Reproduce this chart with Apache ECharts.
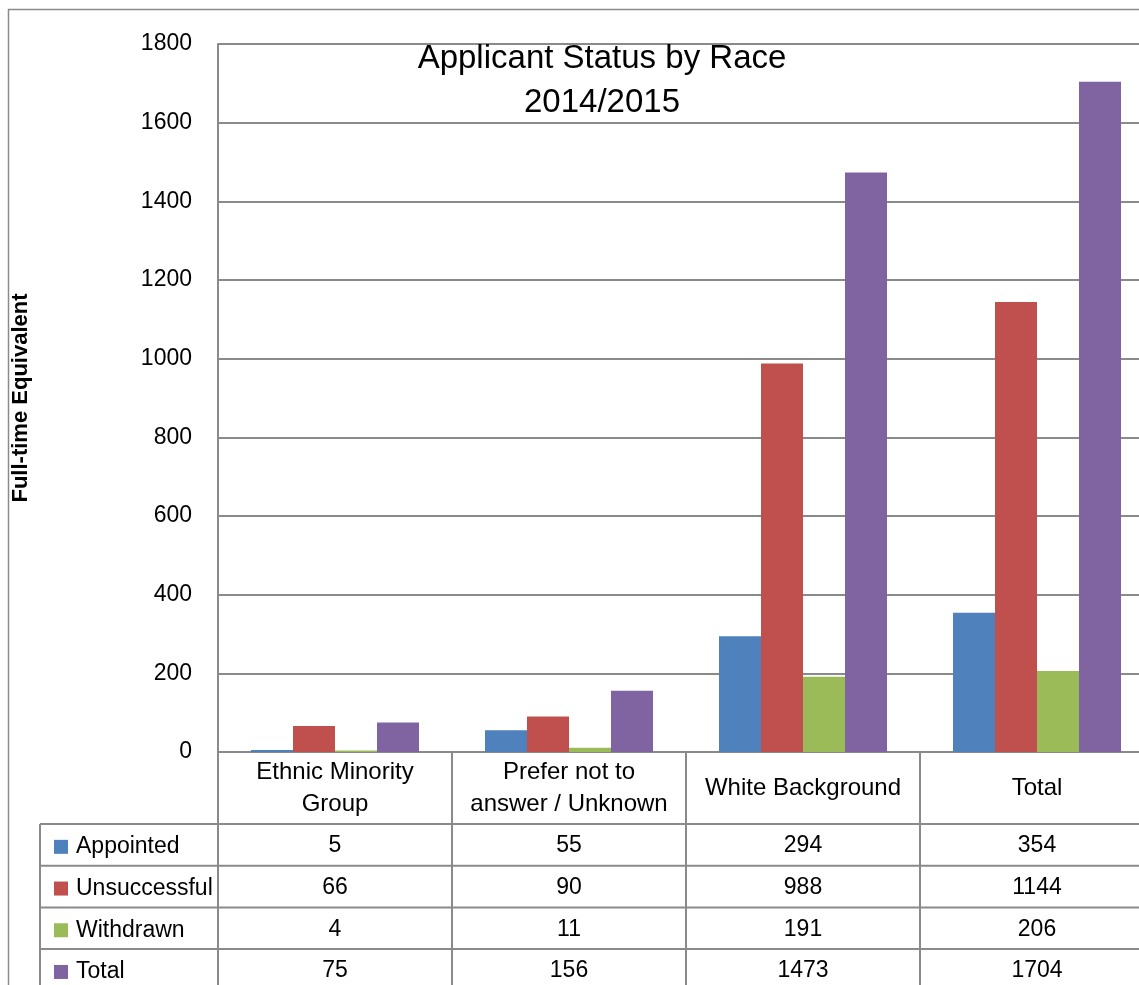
<!DOCTYPE html>
<html>
<head>
<meta charset="utf-8">
<script src="https://cdn.jsdelivr.net/npm/echarts@6/dist/echarts.min.js"></script>
<style>
  html, body { margin: 0; padding: 0; background: #fff; overflow: hidden; }
  /* the original chart is cut off on the right, so the canvas is wider than the window */
  #chart { width: 1160px; height: 985px; }
</style>
</head>
<body>
<div id="chart"></div>
<script>
const categories = ["Ethnic Minority\nGroup", "Prefer not to\nanswer / Unknown", "White Background", "Total"];
const seriesNames = ["Appointed", "Unsuccessful", "Withdrawn", "Total"];
const appointed = [5, 55, 294, 354];
const unsuccessful = [66, 90, 988, 1144];
const withdrawn = [4, 11, 191, 206];
const total = [75, 156, 1473, 1704];
const colors = ["#4F81BD", "#C0504D", "#9BBB59", "#8064A2"];
const yMin = 0, yMax = 1800, yStep = 200;

const font = "'Liberation Sans', Arial, sans-serif";
const lineColor = "#8a8a8a";
const headerH = 72;   // category label row of the table
const rowH = 41.7;    // each data row

const chart = echarts.init(document.getElementById("chart"));
const rows = [appointed, unsuccessful, withdrawn, total];

chart.setOption({
  animation: false,
  textStyle: { fontFamily: font },
  color: colors,
  grid: { left: 218, top: 44, bottom: 233, right: 6 },
  legend: {
    orient: "vertical",
    left: 49,
    top: 44 + 708 + headerH - 3,
    height: 220,
    icon: "rect",
    itemWidth: 14,
    itemHeight: 14,
    itemGap: 0,
    selectedMode: false,
    data: seriesNames,
    textStyle: { fontSize: 23, lineHeight: rowH, color: "#000", padding: [0, 0, 0, 3], fontFamily: font }
  },
  xAxis: {
    type: "category",
    data: categories,
    axisLine: { lineStyle: { color: lineColor, width: 2 } },
    axisTick: { show: true, interval: 0, length: 240, lineStyle: { color: lineColor, width: 2 } },
    axisLabel: {
      interval: 0, margin: 36, verticalAlign: "middle",
      fontSize: 24, lineHeight: 32, color: "#000", fontFamily: font
    }
  },
  yAxis: {
    type: "value",
    min: yMin, max: yMax, interval: yStep,
    name: "Full-time Equivalent",
    nameLocation: "middle",
    nameRotate: 90,
    nameGap: 186,
    nameTextStyle: { fontSize: 22, fontWeight: "bold", color: "#000", fontFamily: font },
    axisLine: { show: true, lineStyle: { color: lineColor, width: 2 } },
    axisTick: { show: false },
    axisLabel: { fontSize: 23, color: "#000", margin: 26, fontFamily: font, formatter: v => String(v) },
    splitLine: { lineStyle: { color: lineColor, width: 2 } }
  },
  series: seriesNames.map((name, i) => ({
    name: name,
    type: "bar",
    data: rows[i],
    barWidth: 42,
    barGap: "0%",
    itemStyle: { color: colors[i] }
  }))
});

// data table below the axis, positioned from the axis scale
const axisY = chart.convertToPixel({ gridIndex: 0 }, [0, yMin])[1];
const tableTop = axisY + headerH;
const graphics = [];

graphics.push({
  type: "rect", silent: true,
  shape: { x: 8.5, y: 9.5, width: 1300, height: 1200 },
  style: { fill: null, stroke: lineColor, lineWidth: 1.5 }
});
graphics.push({
  type: "text", silent: true, x: 602, y: 37,
  style: {
    text: "Applicant Status by Race\n2014/2015",
    font: "33px " + font, lineHeight: 44, fill: "#000",
    textAlign: "center", textVerticalAlign: "top"
  }
});
for (let r = 0; r < rows.length; r++) {
  const y = tableTop + r * rowH;
  graphics.push({
    type: "line", silent: true,
    shape: { x1: 40, y1: y, x2: 1160, y2: y },
    style: { stroke: lineColor, lineWidth: 2 }
  });
  rows[r].forEach((v, c) => {
    const x = chart.convertToPixel({ gridIndex: 0 }, [c, yMin])[0];
    graphics.push({
      type: "text", silent: true, x: x, y: y + rowH / 2 + 1,
      style: {
        text: String(v), font: "23px " + font, fill: "#000",
        textAlign: "center", textVerticalAlign: "middle"
      }
    });
  });
}
graphics.push({
  type: "line", silent: true,
  shape: { x1: 40, y1: tableTop, x2: 40, y2: 985 },
  style: { stroke: lineColor, lineWidth: 2 }
});

chart.setOption({ graphic: graphics });
</script>
</body>
</html>
